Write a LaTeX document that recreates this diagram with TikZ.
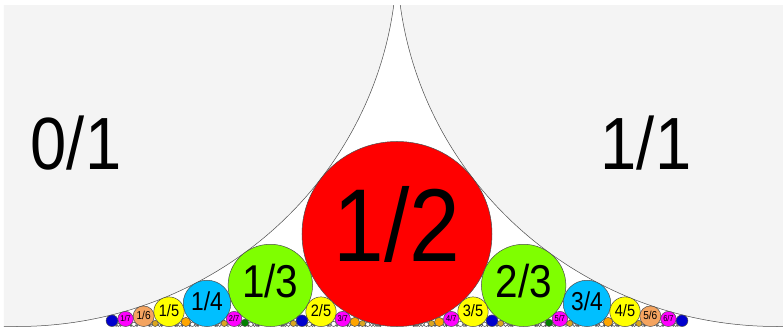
\documentclass[tikz,border=0pt]{standalone}
\usepackage{fontspec}
\setmainfont{Liberation Sans}
\newfontfamily\lblfont[FakeStretch=0.88]{Liberation Sans}

% one colour per denominator
\definecolor{fq1}{HTML}{F4F4F4}
\definecolor{fq2}{HTML}{FF0000}
\definecolor{fq3}{HTML}{7FFF00}
\definecolor{fq4}{HTML}{00BFFF}
\definecolor{fq5}{HTML}{FFFF00}
\definecolor{fq6}{HTML}{F4A460}
\definecolor{fq7}{HTML}{FF00FF}
\definecolor{fq8}{HTML}{0000CD}
\definecolor{fq9}{HTML}{FFA500}
\definecolor{fq10}{HTML}{008000}
\definecolor{fq11}{HTML}{DAA520}
\definecolor{fqx}{HTML}{FFFFFF}

\begin{document}
\begin{tikzpicture}[
		x=760pt, y=740pt,
		ford/.style={draw=black!70, line width=0.5pt},
		lbl/.style={inner sep=0pt, text=black}
		]
		
		\useasboundingbox[fill=white] ({-17/760},{-0.5/740}) rectangle ({766/760},{326.5/740});
		
		% 1. Ford circles: 0/1, 1/1, then p/q between 1/8 and 7/8
		\begin{scope}
			\clip ({-13/760},{-0.5/740}) rectangle ({766/760},{320.5/740});
			\filldraw[ford, fill=fq1] (0,0.5) circle[radius=0.5];
			\filldraw[ford, fill=fq1] (1,0.5) circle[radius=0.5];
			\foreach \q in {2,...,24} {
				\ifnum\q>11 \def\col{fqx}\else\edef\col{fq\q}\fi
				\foreach \p in {1,...,\q} {
					\pgfmathtruncatemacro\g{gcd(\p,\q)}
					\pgfmathtruncatemacro\inr{(8*\p>=\q) && (8*\p<=7*\q)}
					\ifnum\g=1 \ifnum\inr=1
					\pgfmathsetmacro\r{1/(2*\q*\q)}
					\filldraw[ford, fill=\col] ({\p/\q},\r) circle[radius=\r];
					\fi \fi
				}
			}
		\end{scope}
		
		% 2. Labels of the two big circles
		\node[lbl, font=\lblfont\fontsize{74}{74}\selectfont] (l0-1) at (0.0776,0.248) {0/1};
		\node[lbl, font=\lblfont\fontsize{74}{74}\selectfont] (l1-1) at (0.8276,0.248) {1/1};
		
		% 3. Labels p/q for q = 2 ... 7
		\foreach \q in {2,...,7} {
			\foreach \p in {1,...,\q} {
				\pgfmathtruncatemacro\g{gcd(\p,\q)}
				\ifnum\g=1 \ifnum\p<\q
				\pgfmathsetmacro\r{1/(2*\q*\q)}
				\pgfmathsetmacro\fs{740*\r*1.12}
				\node[lbl, font=\lblfont\fontsize{\fs}{\fs}\selectfont] (l\p-\q) at ({\p/\q},{\r*1.1}) {\p/\q};
				\fi \fi
			}
		}
	\end{tikzpicture}
\end{document}
